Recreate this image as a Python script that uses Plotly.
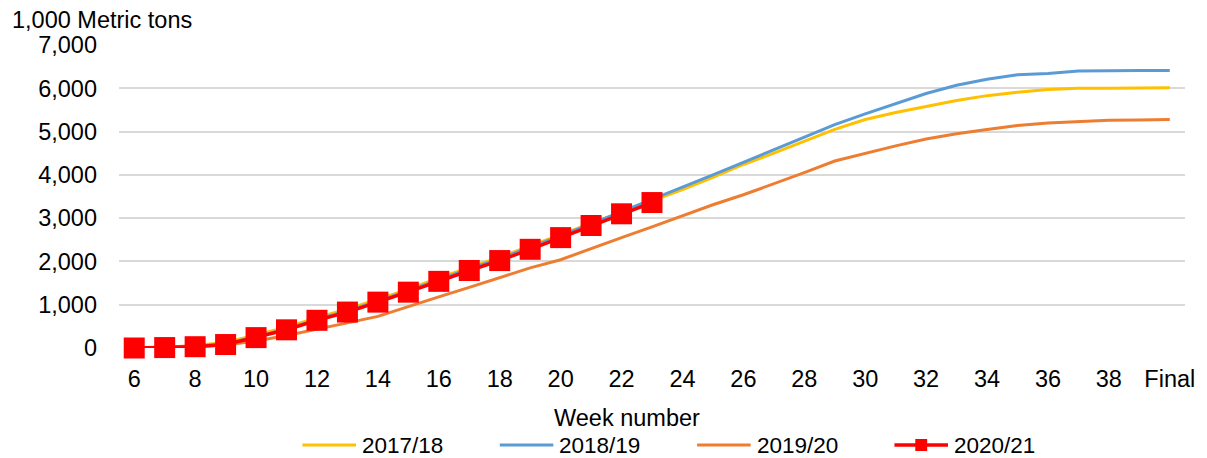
import plotly.graph_objects as go

# Week categories (6..39 then the final figure)
weeks = [str(w) for w in range(6, 40)] + ["Final"]

# Cumulative totals, 1,000 metric tons
s2017_18 = [0, 20, 60, 130, 300, 480, 700, 900, 1120, 1360, 1620, 1860, 2100, 2360,
            2620, 2890, 3150, 3400, 3660, 3940, 4240, 4500, 4780, 5050, 5280, 5440,
            5580, 5720, 5830, 5910, 5970, 6000, 6000, 6010, 6010]
s2018_19 = [0, 10, 40, 100, 260, 440, 660, 860, 1080, 1320, 1570, 1830, 2060, 2330,
            2590, 2870, 3150, 3430, 3710, 4000, 4290, 4580, 4870, 5160, 5410, 5650,
            5880, 6070, 6210, 6310, 6340, 6400, 6410, 6410, 6410]
s2019_20 = [0, 10, 30, 70, 160, 290, 430, 580, 730, 960, 1180, 1400, 1630, 1850,
            2040, 2300, 2550, 2800, 3060, 3310, 3540, 3790, 4050, 4320, 4500, 4670,
            4830, 4950, 5050, 5140, 5200, 5230, 5260, 5270, 5280]
s2020_21 = [0, 10, 30, 80, 240, 420, 640, 830, 1060, 1290, 1540, 1790, 2020, 2280,
            2550, 2830, 3100, 3360]

series_names = ["2017/18", "2018/19", "2019/20", "2020/21"]
colors = ["#FFC000", "#5B9BD5", "#ED7D31", "#FF0000"]

FONT = "Liberation Sans, Arial, sans-serif"
FS = 23.5
W, H = 1207, 458
ML, MR, MT, MB = 119, 13, 45, 110

fig = go.Figure()
for name, vals, col in zip(series_names[:3], [s2017_18, s2018_19, s2019_20], colors[:3]):
    fig.add_trace(go.Scatter(x=weeks[:len(vals)], y=vals, name=name, mode="lines",
                             line=dict(color=col, width=3), showlegend=False))
fig.add_trace(go.Scatter(x=weeks[:len(s2020_21)], y=s2020_21, name=series_names[3],
                         mode="lines+markers", line=dict(color=colors[3], width=3.5),
                         marker=dict(symbol="square", size=21, color=colors[3]),
                         cliponaxis=False, showlegend=False))

fig.update_layout(
    width=W, height=H,
    margin=dict(l=ML, r=MR, t=MT, b=MB),
    paper_bgcolor="white", plot_bgcolor="white",
    font=dict(family=FONT, size=FS, color="#000000"),
    xaxis=dict(type="category", categoryorder="array", categoryarray=weeks,
               tickmode="array", tickvals=weeks[::2], ticktext=weeks[::2],
               showgrid=False, showline=False, zeroline=False, ticks="",
               ticklabelstandoff=14, range=[-0.5, len(weeks) - 0.5]),
    yaxis=dict(range=[0, 7000], tickvals=list(range(0, 7001, 1000)), tickformat=",d",
               showgrid=True, gridcolor="#D9D9D9", gridwidth=1.5,
               zeroline=False, showline=False, ticks="", ticklabelstandoff=21),
    showlegend=False,
)

plot_w = W - ML - MR
plot_h = H - MT - MB


def px_x(p):
    return (p - ML) / plot_w


def px_y(p):
    return (H - MB - p) / plot_h


annotations = [
    dict(text="1,000 Metric tons", x=px_x(9), y=px_y(20), xref="paper", yref="paper",
         xanchor="left", yanchor="middle", showarrow=False),
    dict(text="Week number", x=px_x(631), y=px_y(418), xref="paper", yref="paper",
         xanchor="center", yanchor="middle", showarrow=False),
]
shapes = []

# Legend row along the bottom
leg_y = 445
leg_x0 = [304, 503, 702, 901]
leg_len = 54
for name, col, x0 in zip(series_names, colors, leg_x0):
    shapes.append(dict(type="line", xref="paper", yref="paper",
                       x0=px_x(x0), x1=px_x(x0 + leg_len), y0=px_y(leg_y), y1=px_y(leg_y),
                       line=dict(color=col, width=3.5 if col == "#FF0000" else 3)))
    annotations.append(dict(text=name, x=px_x(x0 + leg_len + 4), y=px_y(leg_y),
                            xref="paper", yref="paper", xanchor="left",
                            yanchor="middle", showarrow=False,
                            font=dict(size=22.5)))
# square marker on the 2020/21 legend line
mid = leg_x0[3] + leg_len / 2
shapes.append(dict(type="rect", xref="paper", yref="paper", fillcolor=colors[3],
                   line=dict(width=0),
                   x0=px_x(mid - 6), x1=px_x(mid + 6),
                   y0=px_y(leg_y + 6), y1=px_y(leg_y - 6)))

fig.update_layout(annotations=annotations, shapes=shapes)
fig.write_html("out.html")
